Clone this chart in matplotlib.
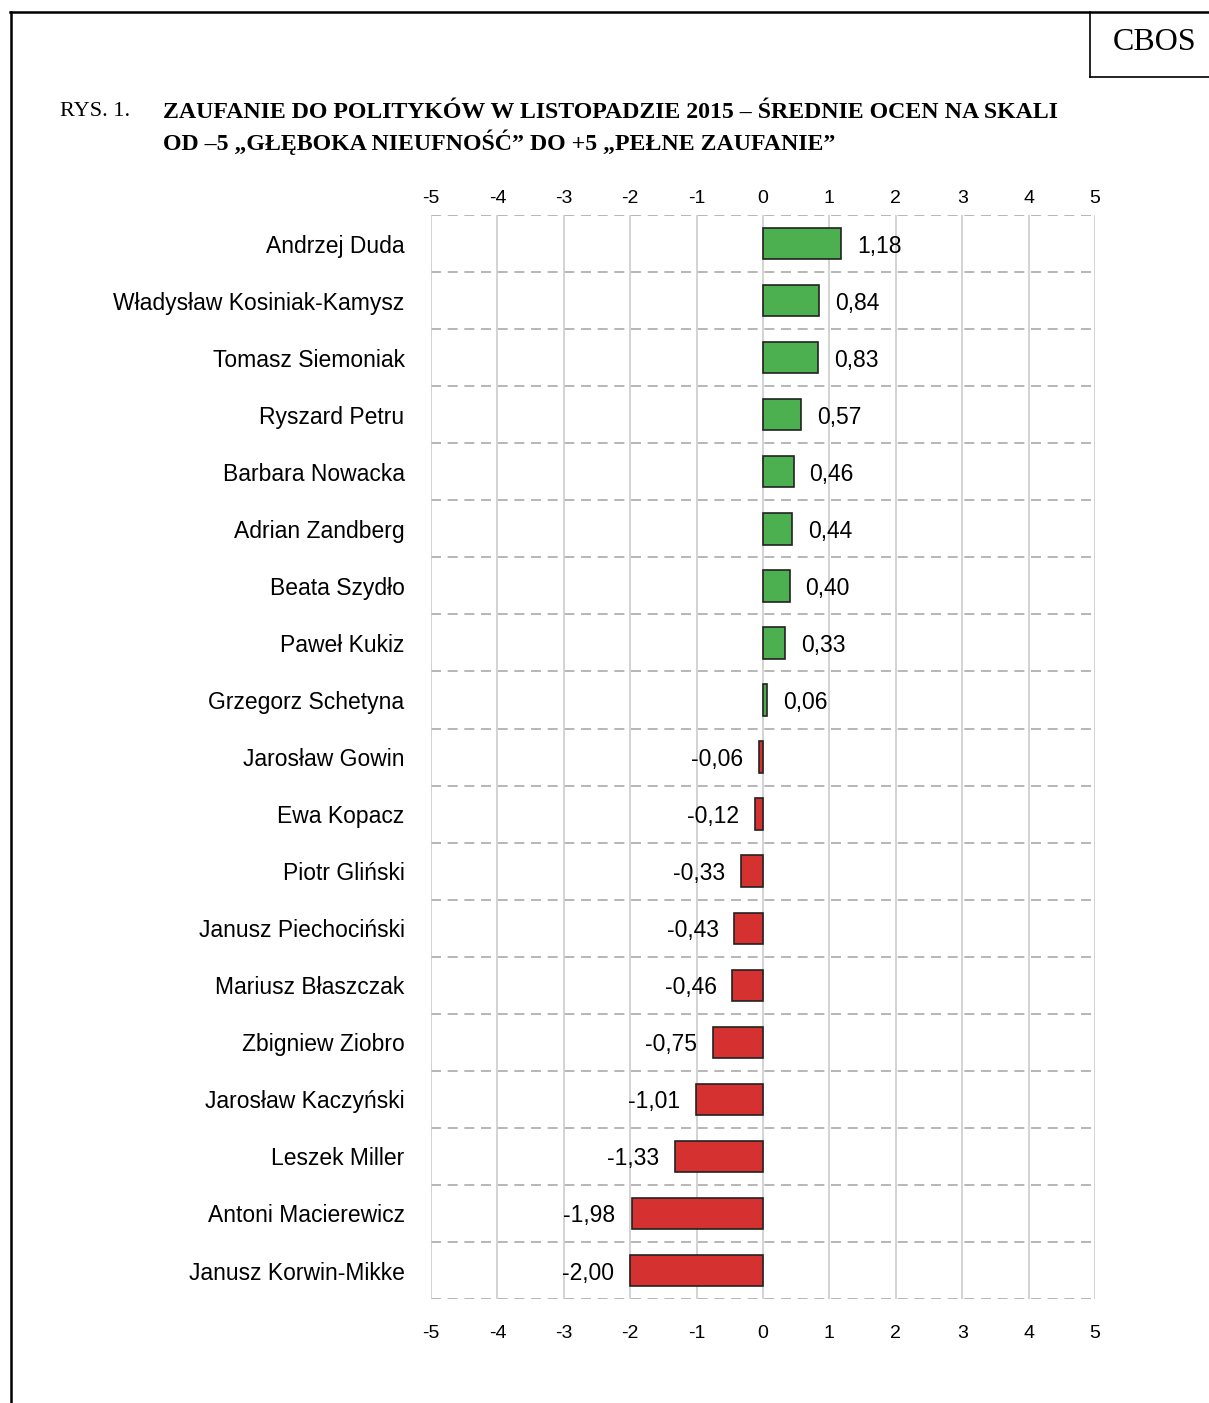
import numpy as np
import matplotlib.pyplot as plt
from matplotlib.lines import Line2D

# data
names = ["Andrzej Duda", "Władysław Kosiniak-Kamysz", "Tomasz Siemoniak", "Ryszard Petru",
         "Barbara Nowacka", "Adrian Zandberg", "Beata Szydło", "Paweł Kukiz",
         "Grzegorz Schetyna", "Jarosław Gowin", "Ewa Kopacz", "Piotr Gliński",
         "Janusz Piechociński", "Mariusz Błaszczak", "Zbigniew Ziobro",
         "Jarosław Kaczyński", "Leszek Miller", "Antoni Macierewicz", "Janusz Korwin-Mikke"]
scores = [1.18, 0.84, 0.83, 0.57, 0.46, 0.44, 0.40, 0.33, 0.06,
          -0.06, -0.12, -0.33, -0.43, -0.46, -0.75, -1.01, -1.33, -1.98, -2.00]
ticks = [-5, -4, -3, -2, -1, 0, 1, 2, 3, 4, 5]

plt.rcParams['font.family'] = ['Liberation Sans', 'DejaVu Sans']

fig = plt.figure(figsize=(12.09, 14.03), dpi=100)
ax = fig.add_axes([0.3565, 0.0741, 0.5492, 0.7726])

n = len(names)
y = np.arange(n)
colors = ["#4caf50" if v >= 0 else "#d63131" for v in scores]
ax.barh(y, scores, height=0.55, color=colors, edgecolor="#222222", linewidth=1.2, zorder=3)

# value labels
for yi, v in zip(y, scores):
    txt = f"{v:.2f}".replace(".", ",")
    if v >= 0:
        ax.text(v + 0.24, yi, txt, ha="left", va="center_baseline", fontsize=16.5, zorder=4)
    else:
        ax.text(v - 0.24, yi, txt, ha="right", va="center_baseline", fontsize=16.5, zorder=4)

ax.set_xlim(-5, 5)
ax.set_ylim(n - 0.5, -0.5)
ax.set_xticks(ticks)
ax.set_xticklabels([str(t) for t in ticks])
ax.set_yticks(y)
ax.set_yticklabels(names, fontsize=16.5)
ax.tick_params(axis="y", length=0, pad=19)
ax.tick_params(axis="x", length=0, labelsize=14, pad=19)
for s in ax.spines.values():
    s.set_visible(False)

# top axis labels
top = ax.secondary_xaxis("top")
top.set_xticks(ticks)
top.set_xticklabels([str(t) for t in ticks])
top.tick_params(length=0, labelsize=14, pad=6)
top.spines["top"].set_visible(False)

# grid
ax.xaxis.grid(True, color="#cccccc", linewidth=1.2, zorder=0)
for b in np.arange(-0.5, n, 1.0):
    ax.axhline(b, color="#aaaaaa", linewidth=1.2, linestyle=(0, (6, 4)), zorder=1)

# frame and title
fig.add_artist(Line2D([10/1209, 1], [1 - 12/1403, 1 - 12/1403], color="black", linewidth=1.8))
fig.add_artist(Line2D([11/1209, 11/1209], [0, 1 - 12/1403], color="black", linewidth=1.8))
fig.add_artist(Line2D([1090/1209, 1090/1209], [1 - 12/1403, 1 - 77/1403], color="black", linewidth=1.2))
fig.add_artist(Line2D([1090/1209, 1], [1 - 77/1403, 1 - 77/1403], color="black", linewidth=1.2))
fig.text(1155/1209, 1 - 43/1403, "CBOS", ha="center", va="center", fontsize=23,
         family="Liberation Serif")

fig.text(60/1209, 1 - 112/1403, "RYS. 1.", ha="left", va="center", fontsize=16,
         family="Liberation Serif")
fig.text(163/1209, 1 - 112/1403, "ZAUFANIE DO POLITYKÓW W LISTOPADZIE 2015 – ŚREDNIE OCEN NA SKALI",
         ha="left", va="center", fontsize=17.2, family="Liberation Serif", fontweight="bold")
fig.text(163/1209, 1 - 142/1403, "OD –5 „GŁĘBOKA NIEUFNOŚĆ” DO +5 „PEŁNE ZAUFANIE”",
         ha="left", va="center", fontsize=17.2, family="Liberation Serif", fontweight="bold")

fig.savefig("out.png", dpi=100)
